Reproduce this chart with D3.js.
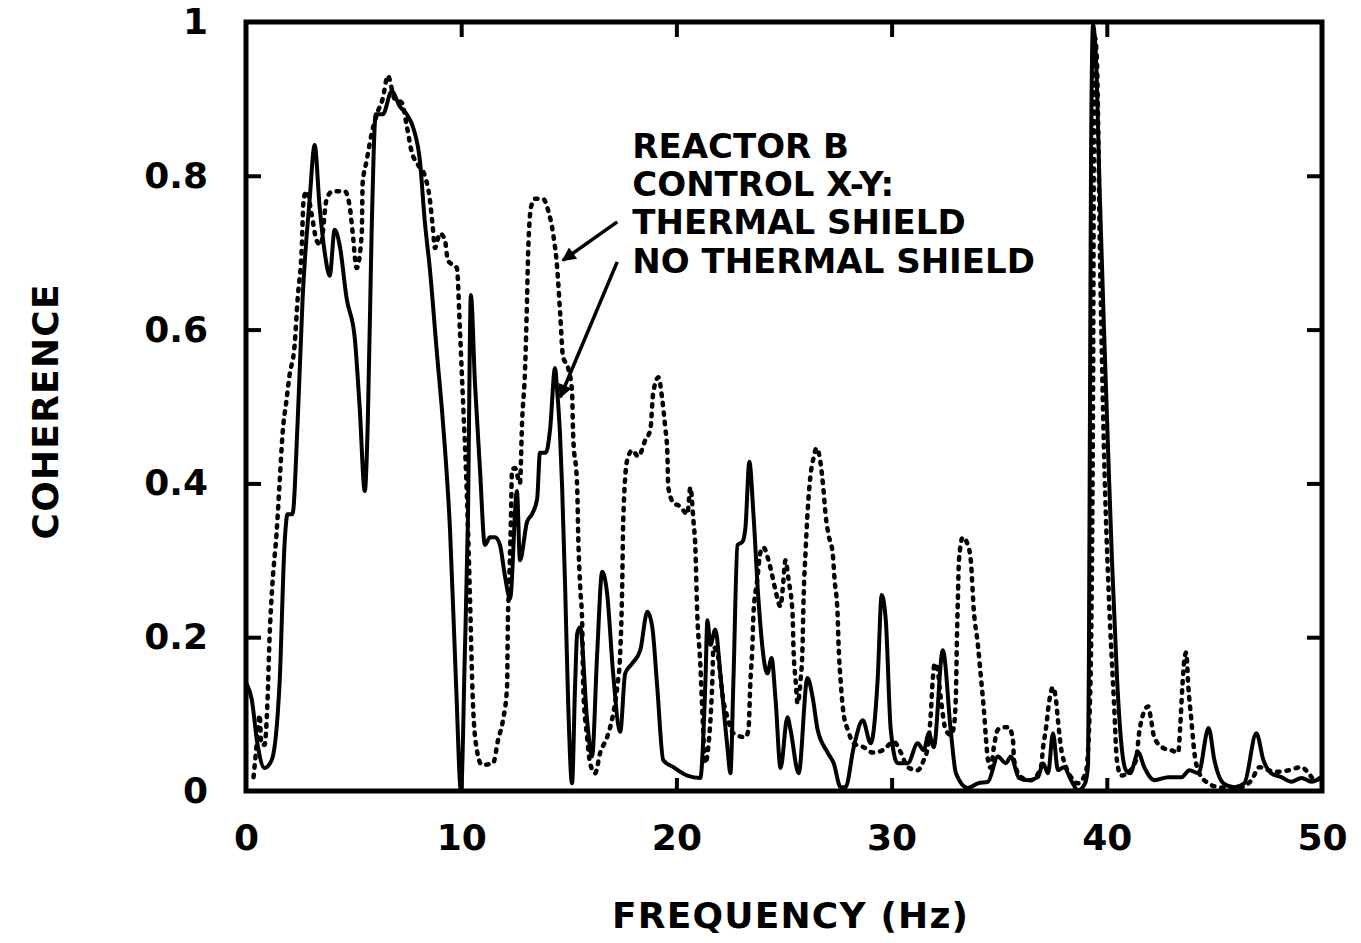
<!DOCTYPE html>
<html>
<head>
<meta charset="utf-8">
<script src="https://cdn.jsdelivr.net/npm/d3@7"></script>
<style>
  body { margin: 0; background: #fff; }
  text { font-family: "DejaVu Sans", sans-serif; font-weight: bold; fill: #000; }
</style>
</head>
<body>
<div class="canvas"></div>
<script>
// NO THERMAL SHIELD (solid)
const freqSolid = [0.02,0.26,0.54,0.86,1.19,1.56,1.79,1.93,2.16,2.40,2.63,2.96,3.19,3.42,3.66,3.89,4.12,4.35,4.68,5.05,5.28,5.52,5.66,5.84,6.03,6.36,6.77,7.15,7.47,7.80,8.08,8.31,8.54,8.87,9.15,9.48,9.76,9.99,10.17,10.31,10.45,10.64,10.87,11.10,11.34,11.57,11.80,12.03,12.27,12.59,12.73,13.06,13.29,13.53,13.66,13.94,14.13,14.36,14.46,14.59,14.69,14.83,14.97,15.15,15.29,15.39,15.53,15.85,16.08,16.32,16.55,16.78,17.06,17.39,17.62,17.95,18.32,18.65,18.88,19.11,19.39,19.86,20.51,21.11,21.35,21.44,21.58,21.81,22.04,22.37,22.51,22.65,22.84,23.07,23.21,23.39,23.58,23.81,24.23,24.42,24.61,24.84,25.16,25.30,25.68,26.09,26.33,26.56,27.03,27.31,27.63,27.86,28.24,28.66,29.03,29.35,29.54,29.73,29.96,30.28,30.75,31.21,31.49,31.73,31.96,32.38,32.76,32.99,33.54,34.01,34.48,34.94,35.31,35.54,35.92,36.34,36.80,37.04,37.27,37.50,37.73,38.01,38.34,38.66,38.99,39.13,39.17,39.22,39.27,39.36,39.50,39.68,39.87,40.06,40.24,40.48,40.66,40.89,41.08,41.46,41.74,42.21,42.86,43.47,43.84,44.26,44.73,45.00,45.42,45.93,46.39,46.95,47.28,47.65,48.11,48.58,49.05,49.51,49.98];
const cohSolid = [0.14,0.12,0.06,0.03,0.04,0.14,0.32,0.36,0.36,0.48,0.64,0.77,0.84,0.76,0.70,0.67,0.73,0.71,0.64,0.59,0.50,0.39,0.48,0.73,0.88,0.88,0.91,0.89,0.88,0.86,0.82,0.74,0.68,0.57,0.48,0.34,0.14,0.0,0.18,0.35,0.645,0.53,0.42,0.32,0.33,0.33,0.32,0.28,0.25,0.39,0.30,0.35,0.36,0.38,0.44,0.44,0.47,0.55,0.52,0.465,0.395,0.265,0.115,0.01,0.135,0.205,0.213,0.092,0.045,0.18,0.285,0.257,0.153,0.077,0.153,0.166,0.183,0.233,0.213,0.135,0.04,0.031,0.02,0.017,0.144,0.222,0.19,0.21,0.153,0.057,0.023,0.144,0.32,0.324,0.343,0.428,0.36,0.25,0.153,0.173,0.118,0.03,0.096,0.08,0.023,0.147,0.122,0.08,0.05,0.036,0.005,0.005,0.057,0.092,0.062,0.144,0.255,0.222,0.08,0.036,0.036,0.062,0.053,0.075,0.057,0.183,0.075,0.023,0.004,0.01,0.012,0.045,0.036,0.045,0.017,0.014,0.018,0.036,0.023,0.075,0.027,0.031,0.014,0.001,0.01,0.034,0.183,0.51,0.834,0.996,0.95,0.77,0.60,0.443,0.30,0.144,0.066,0.027,0.023,0.05,0.031,0.014,0.018,0.018,0.027,0.023,0.082,0.04,0.01,0.005,0.01,0.075,0.04,0.023,0.018,0.012,0.017,0.012,0.018];

// THERMAL SHIELD (dotted)
const freqDotted = [0.35,0.54,0.63,0.72,0.86,1.00,1.09,1.23,1.42,1.56,1.70,1.89,2.02,2.26,2.40,2.58,2.68,2.82,3.05,3.28,3.47,3.75,4.03,4.59,4.82,4.96,5.14,5.38,5.42,5.61,5.84,6.08,6.35,6.59,6.91,7.24,7.47,7.71,7.98,8.31,8.54,8.68,8.78,9.01,9.24,9.38,9.80,9.94,10.08,10.27,10.41,10.54,10.73,10.96,11.48,11.71,11.94,12.13,12.17,12.22,12.31,12.36,12.50,12.73,12.83,12.97,13.06,13.11,13.25,13.43,13.81,14.04,14.27,14.46,14.60,14.73,14.97,15.15,15.20,15.39,15.44,15.53,15.62,15.67,15.85,15.99,16.22,16.46,16.78,17.06,17.25,17.39,17.48,17.53,17.71,17.95,18.23,18.55,18.79,18.92,19.16,19.34,19.48,19.58,19.62,19.86,20.18,20.51,20.65,20.79,20.88,20.97,21.11,21.21,21.35,21.48,21.67,21.72,21.90,22.18,22.37,22.65,23.21,23.35,23.44,23.53,23.58,23.76,23.90,24.04,24.28,24.47,24.61,24.84,24.93,25.07,25.21,25.40,25.44,25.54,25.63,25.77,25.86,25.91,26.00,26.09,26.23,26.37,26.51,26.70,26.84,26.93,27.07,27.26,27.35,27.49,27.54,27.63,27.77,27.96,28.24,28.70,29.12,29.59,30.10,30.43,30.75,31.21,31.49,31.68,31.82,31.91,32.00,32.14,32.28,32.52,32.75,32.89,32.99,33.03,33.08,33.13,33.31,33.54,33.68,33.82,34.01,34.15,34.29,34.38,34.48,34.61,34.75,34.94,35.22,35.45,35.64,35.69,36.01,36.48,36.94,37.04,37.18,37.31,37.50,37.64,37.73,37.87,38.11,38.34,38.66,39.03,39.22,39.36,39.41,39.45,39.54,39.68,39.87,40.10,40.33,40.47,40.66,40.94,41.36,41.50,41.69,41.92,42.06,42.20,42.62,42.99,43.32,43.41,43.51,43.60,43.69,43.79,43.93,44.07,44.30,44.72,45.19,45.65,46.26,46.72,47.10,47.52,47.98,48.45,49.05,49.38,49.66,49.98];
const cohDotted = [0.018,0.073,0.099,0.06,0.06,0.118,0.196,0.27,0.335,0.40,0.465,0.51,0.54,0.58,0.64,0.70,0.77,0.78,0.75,0.716,0.71,0.77,0.78,0.78,0.76,0.725,0.68,0.725,0.79,0.82,0.855,0.88,0.90,0.93,0.90,0.895,0.865,0.83,0.815,0.80,0.77,0.733,0.706,0.725,0.717,0.69,0.68,0.60,0.51,0.38,0.25,0.118,0.053,0.034,0.036,0.066,0.092,0.135,0.222,0.265,0.352,0.417,0.42,0.40,0.48,0.55,0.64,0.70,0.76,0.77,0.77,0.755,0.725,0.68,0.62,0.565,0.55,0.52,0.465,0.395,0.33,0.265,0.22,0.135,0.07,0.036,0.023,0.05,0.07,0.10,0.135,0.18,0.265,0.352,0.43,0.443,0.435,0.456,0.47,0.517,0.538,0.51,0.473,0.44,0.395,0.375,0.37,0.36,0.395,0.352,0.317,0.23,0.166,0.10,0.036,0.057,0.144,0.187,0.18,0.118,0.096,0.075,0.07,0.08,0.144,0.187,0.23,0.275,0.31,0.317,0.30,0.278,0.26,0.24,0.26,0.30,0.275,0.23,0.187,0.144,0.114,0.144,0.187,0.25,0.31,0.36,0.41,0.433,0.446,0.426,0.39,0.36,0.333,0.31,0.275,0.23,0.187,0.144,0.10,0.08,0.062,0.057,0.05,0.053,0.064,0.05,0.031,0.027,0.04,0.057,0.10,0.144,0.166,0.157,0.122,0.079,0.073,0.083,0.127,0.19,0.25,0.30,0.33,0.32,0.30,0.235,0.19,0.148,0.105,0.07,0.04,0.03,0.057,0.08,0.083,0.083,0.066,0.04,0.018,0.014,0.031,0.057,0.083,0.114,0.135,0.118,0.092,0.057,0.031,0.018,0.01,0.025,0.118,0.51,0.90,0.98,0.95,0.70,0.443,0.25,0.118,0.04,0.02,0.023,0.04,0.075,0.10,0.11,0.092,0.07,0.056,0.053,0.05,0.083,0.135,0.17,0.18,0.135,0.092,0.05,0.023,0.01,0.005,0.004,0.005,0.014,0.031,0.027,0.025,0.027,0.031,0.023,0.014,0.018];

const xTicks = [0, 10, 20, 30, 40, 50];
const yTicks = [0, 0.2, 0.4, 0.6, 0.8, 1];
const legendLines = ['REACTOR B', 'CONTROL X-Y:', 'THERMAL SHIELD', 'NO THERMAL SHIELD'];

const width = 1361, height = 943;
const plot = { left: 246, right: 1322, top: 22, bottom: 791 };

const svg = d3.select('.canvas').append('svg')
  .attr('width', width)
  .attr('height', height);

const x = d3.scaleLinear().domain([0, 50]).range([plot.left, plot.right]);
const y = d3.scaleLinear().domain([0, 1]).range([plot.bottom, plot.top]);

const fmt = (d) => (d === 0 || d === 1 ? String(d) : d.toFixed(1));

// AXES
const styleAxis = (g) => {
  g.select('.domain').remove();
  g.selectAll('line').attr('stroke', '#000').attr('stroke-width', 4);
  g.selectAll('text').style('font-size', '36px');
};

const inner = (arr) => arr.filter((d, i) => i > 0 && i < arr.length - 1);

svg.append('g')
  .attr('transform', `translate(0, ${plot.bottom})`)
  .call(d3.axisBottom(x).tickValues(xTicks).tickFormat(d3.format('d')).tickSize(0).tickPadding(33))
  .call(styleAxis);
svg.append('g')
  .attr('transform', `translate(0, ${plot.bottom})`)
  .call(d3.axisBottom(x).tickValues(inner(xTicks)).tickFormat('').tickSize(-13))
  .call(styleAxis);
svg.append('g')
  .attr('transform', `translate(0, ${plot.top})`)
  .call(d3.axisTop(x).tickValues(inner(xTicks)).tickFormat('').tickSize(-15))
  .call(styleAxis);

svg.append('g')
  .attr('transform', `translate(${plot.left}, 0)`)
  .call(d3.axisLeft(y).tickValues(yTicks).tickFormat(fmt).tickSize(0).tickPadding(38))
  .call(styleAxis);
svg.append('g')
  .attr('transform', `translate(${plot.left}, 0)`)
  .call(d3.axisLeft(y).tickValues(inner(yTicks)).tickFormat('').tickSize(-15))
  .call(styleAxis);
svg.append('g')
  .attr('transform', `translate(${plot.right}, 0)`)
  .call(d3.axisRight(y).tickValues(inner(yTicks)).tickFormat('').tickSize(-15))
  .call(styleAxis);

// FRAME
svg.append('rect')
  .attr('x', plot.left)
  .attr('y', plot.top)
  .attr('width', plot.right - plot.left)
  .attr('height', plot.bottom - plot.top)
  .attr('fill', 'none')
  .attr('stroke', '#000')
  .attr('stroke-width', 5);

// CURVES
const line = d3.line()
  .x((d) => x(d[0]))
  .y((d) => y(d[1]))
  .curve(d3.curveMonotoneX);

svg.append('path')
  .datum(d3.zip(freqDotted, cohDotted))
  .attr('d', line)
  .attr('fill', 'none')
  .attr('stroke', '#000')
  .attr('stroke-width', 4.5)
  .attr('stroke-linecap', 'round')
  .attr('stroke-dasharray', '2.5 7');

svg.append('path')
  .datum(d3.zip(freqSolid, cohSolid))
  .attr('d', line)
  .attr('fill', 'none')
  .attr('stroke', '#000')
  .attr('stroke-width', 4)
  .attr('stroke-linejoin', 'round');

// LEGEND TEXT + ARROWS
const legend = svg.append('g');
legend.selectAll('text')
  .data(legendLines)
  .enter()
  .append('text')
  .attr('x', x(17.95))
  .attr('y', (d, i) => 158 + i * 38.2)
  .style('font-size', '34px')
  .text((d) => d);

svg.append('defs').append('marker')
  .attr('id', 'head')
  .attr('viewBox', '0 0 10 10')
  .attr('refX', 9)
  .attr('refY', 5)
  .attr('markerWidth', 5)
  .attr('markerHeight', 4)
  .attr('markerUnits', 'strokeWidth')
  .attr('orient', 'auto')
  .append('path')
  .attr('d', 'M0,0 L10,5 L0,10 Z')
  .attr('fill', '#000');

const arrows = [
  { from: [17.25, 0.74], to: [14.72, 0.69] },
  { from: [17.25, 0.688], to: [14.6, 0.512] }
];
svg.selectAll('.arrow')
  .data(arrows)
  .enter()
  .append('line')
  .attr('class', 'arrow')
  .attr('x1', (d) => x(d.from[0]))
  .attr('y1', (d) => y(d.from[1]))
  .attr('x2', (d) => x(d.to[0]))
  .attr('y2', (d) => y(d.to[1]))
  .attr('stroke', '#000')
  .attr('stroke-width', 3.5)
  .attr('marker-end', 'url(#head)');

// AXIS TITLES
svg.append('text')
  .attr('x', 790)
  .attr('y', 928)
  .attr('text-anchor', 'middle')
  .attr('textLength', 356)
  .style('font-size', '36px')
  .text('FREQUENCY (Hz)');

svg.append('text')
  .attr('transform', 'translate(58, 412) rotate(-90)')
  .attr('text-anchor', 'middle')
  .attr('textLength', 255)
  .style('font-size', '36px')
  .text('COHERENCE');
</script>
</body>
</html>
